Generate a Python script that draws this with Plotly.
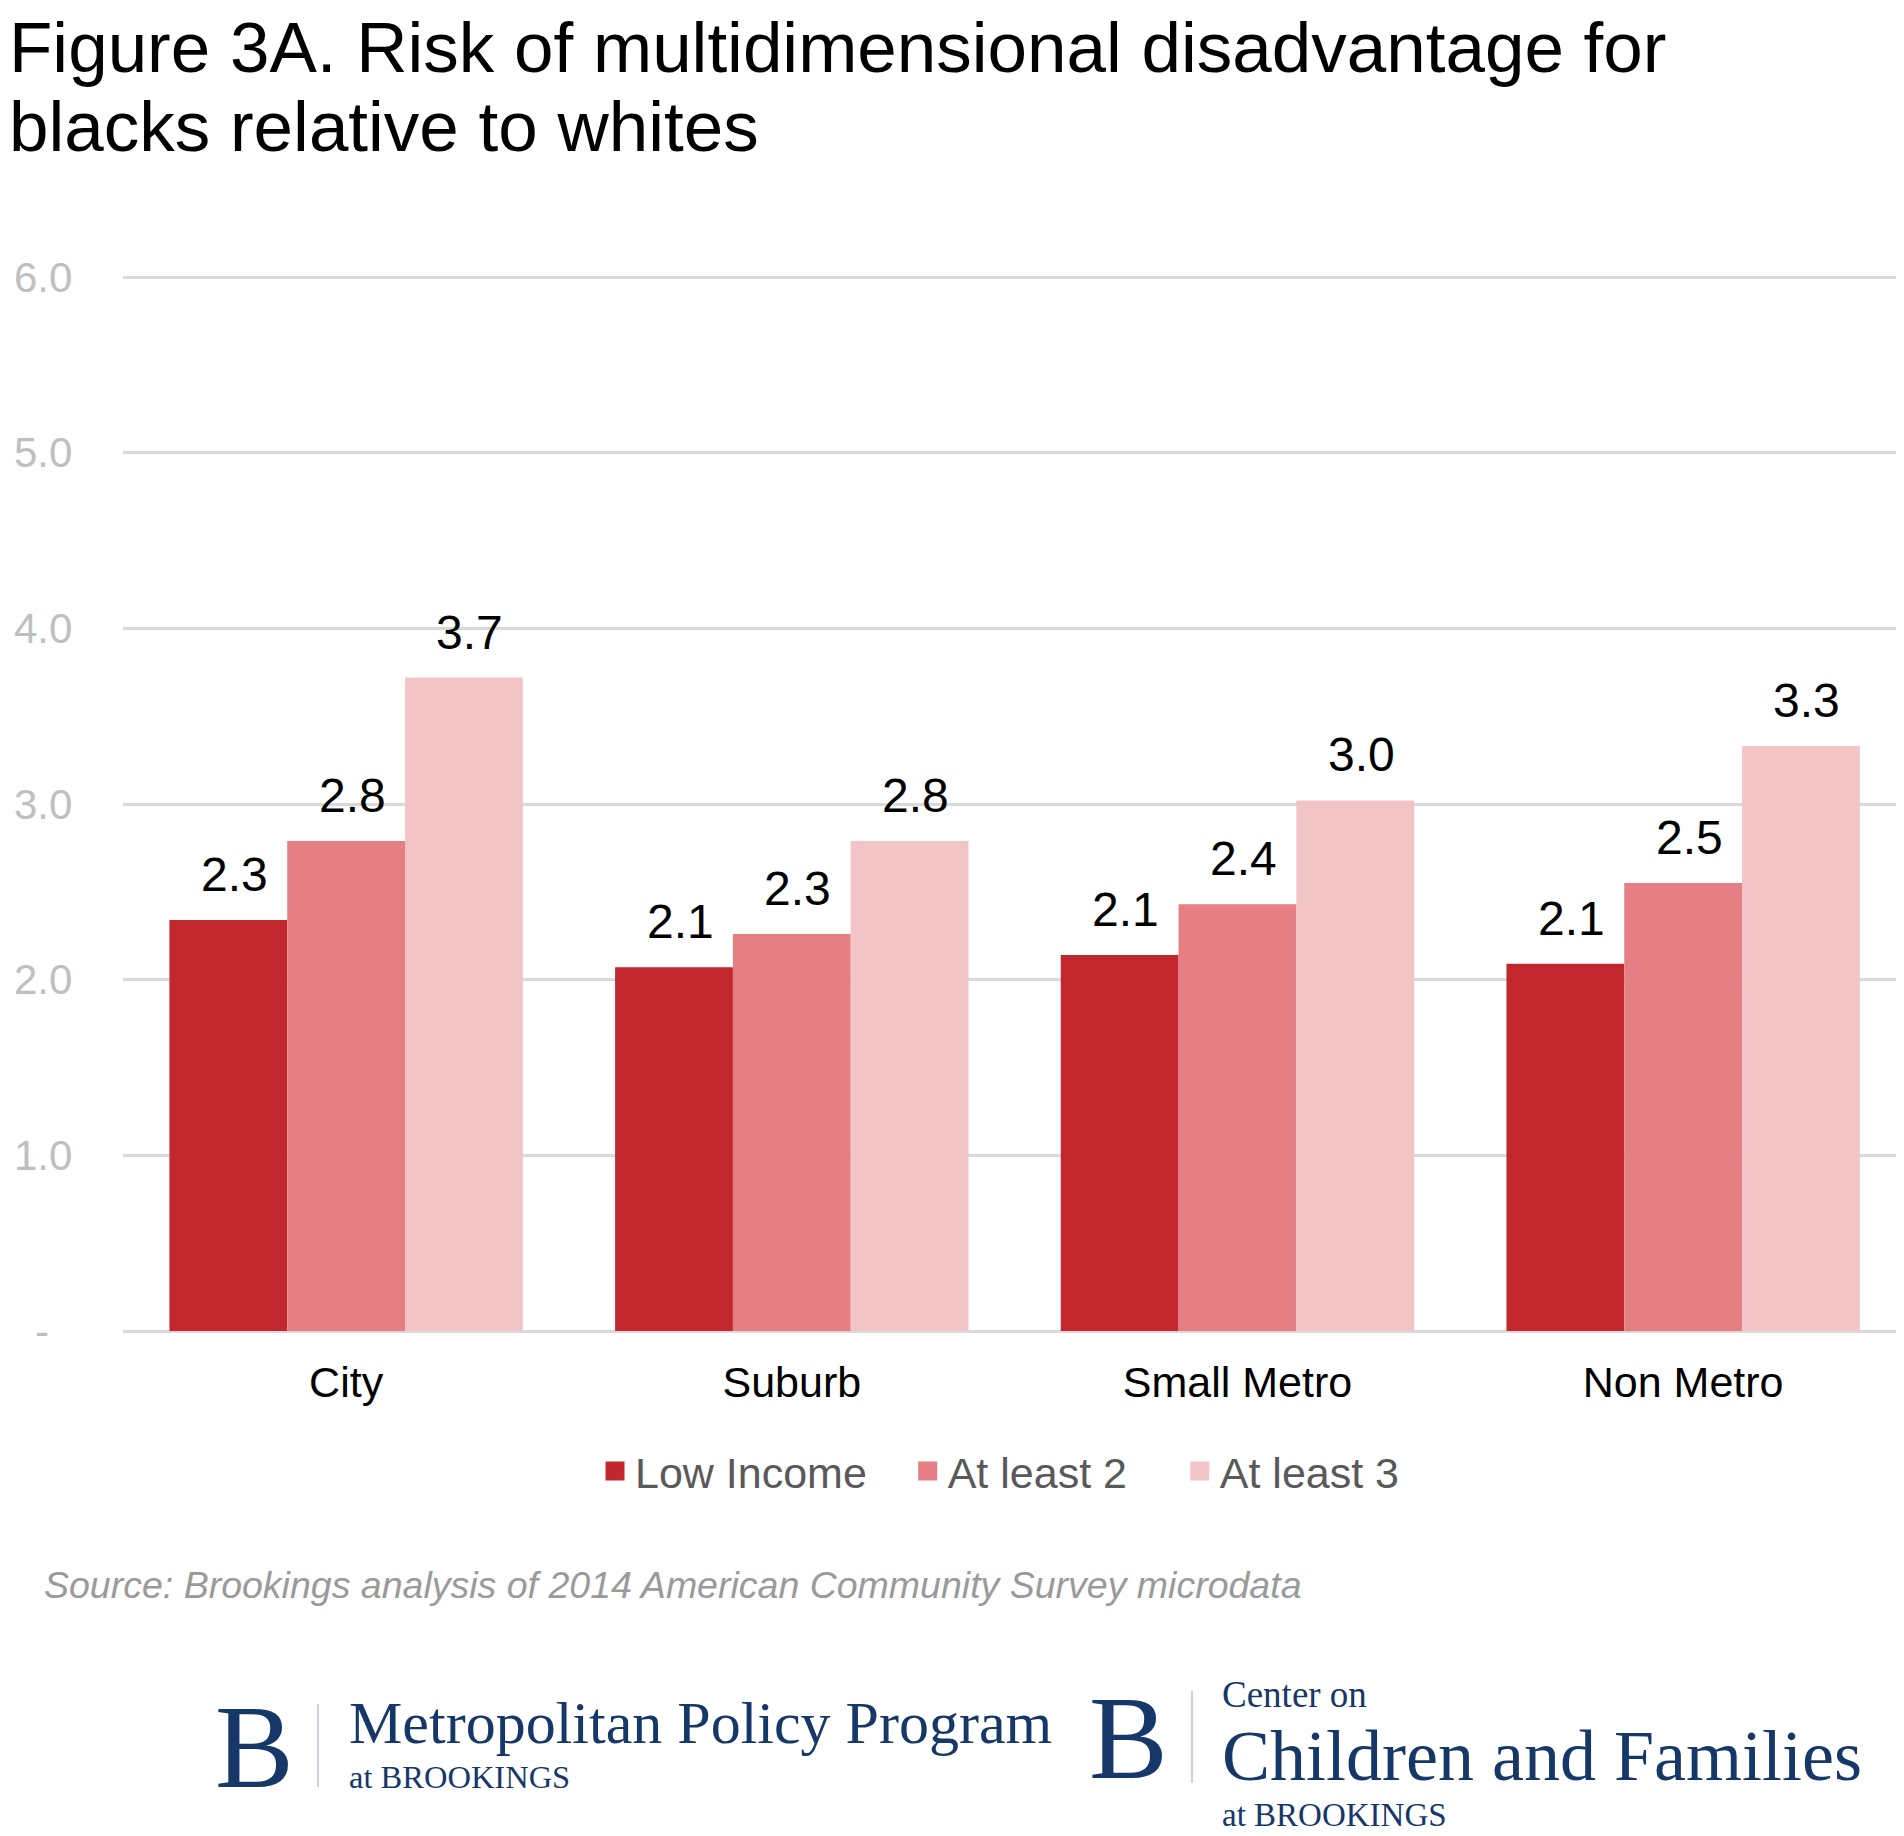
import plotly.graph_objects as go

# ---------------- data ----------------
categories = ["City", "Suburb", "Small Metro", "Non Metro"]
low_income = [2.34, 2.07, 2.14, 2.09]
at_least_2 = [2.79, 2.26, 2.43, 2.55]
at_least_3 = [3.72, 2.79, 3.02, 3.33]
series_names = ["Low Income", "At least 2", "At least 3"]
y_tick_vals = [0, 1, 2, 3, 4, 5, 6]
y_tick_text = ["-\u00a0\u00a0", "1.0", "2.0", "3.0", "4.0", "5.0", "6.0"]

title_lines = ["Figure 3A. Risk of multidimensional disadvantage for",
               "blacks relative to whites"]
source_text = "Source: Brookings analysis of 2014 American Community Survey microdata"

# ---------------- styles ----------------
W, H = 1904, 1836
OFF = 8  # page body margin
colors = ["#C1272D", "#E67F83", "#F3C4C6"]
SANS = "Liberation Sans, Arial, sans-serif"
SERIF = "Liberation Serif, Times New Roman, serif"
NAVY = "#163868"
BARGAP = 0.207
Y_MAX = 6.01

series_values = [low_income, at_least_2, at_least_3]


def fy(px):
    return 1 - (px - OFF) / H


def fx(px):
    return (px - OFF) / W


fig = go.Figure()
for name, vals, col in zip(series_names, series_values, colors):
    fig.add_trace(go.Bar(x=categories, y=vals, name=name, marker_color=col,
                         marker_line_width=0, showlegend=False))

# legend-only entries with larger square swatches
legend_pad = ["\u00a0\u00a0\u00a0", "\u00a0\u00a0\u00a0\u00a0", ""]
for name, col, pad in zip(series_names, colors, legend_pad):
    fig.add_trace(go.Scatter(x=[categories[0]], y=[None], mode="markers", name=name + pad,
                             marker=dict(symbol="square", size=16, color=col,
                                         line=dict(color=col, width=3)),
                             hoverinfo="skip"))

annotations = []
# value labels positioned in data coordinates
w = (1 - BARGAP) / len(series_values)
for i, vals in enumerate(series_values):
    for j, v in enumerate(vals):
        annotations.append(dict(x=j + (i - 1) * w, y=v, xref="x", yref="y",
                                text=f"{v:.1f}", showarrow=False, yanchor="bottom",
                                xshift=6, yshift=17,
                                font=dict(family=SANS, size=48, color="#000000")))

# title lines
for line, base in zip(title_lines, [72, 151]):
    annotations.append(dict(x=fx(8), y=fy(base - 0.3465 * 71), xref="paper", yref="paper",
                            text=line, showarrow=False, xanchor="left", yanchor="middle",
                            borderpad=0, font=dict(family=SANS, size=71, color="#000000")))
# source
annotations.append(dict(x=fx(42), y=fy(1598 - 0.3465 * 37.5), xref="paper", yref="paper",
                        text="<i>" + source_text + "</i>", showarrow=False, xanchor="left",
                        yanchor="middle", font=dict(family=SANS, size=37.5, color="#9A9A9A")))


# logos (text)
def logo_text(txt, x, baseline, size):
    annotations.append(dict(x=fx(x), y=fy(baseline - 0.3375 * size), xref="paper", yref="paper",
                            text=txt, showarrow=False, xanchor="left", yanchor="middle",
                            borderpad=0, font=dict(family=SERIF, size=size, color=NAVY)))


logo_text("B", 214, 1787, 118)
logo_text("Metropolitan Policy Program", 348, 1743, 60)
logo_text("at BROOKINGS", 348, 1788, 32.5)
logo_text("B", 1088, 1778, 118)
logo_text("Center on", 1221, 1707, 37)
logo_text("Children and Families", 1221, 1780, 72)
logo_text("at BROOKINGS", 1221, 1826, 33)

shapes = [
    dict(type="line", xref="paper", yref="paper", x0=fx(318), x1=fx(318), y0=fy(1704), y1=fy(1787),
         line=dict(color="#B8C2D8", width=1.5)),
    dict(type="line", xref="paper", yref="paper", x0=fx(1192), x1=fx(1192), y0=fy(1691), y1=fy(1783),
         line=dict(color="#B8C2D8", width=1.5)),
]

unit_px = (1331 - 277) / 6.0
fig.update_layout(
    width=W, height=H,
    margin=dict(l=0, r=0, t=0, b=0, autoexpand=False),
    paper_bgcolor="white", plot_bgcolor="white",
    barmode="group", bargap=BARGAP, bargroupgap=0,
    font=dict(family=SANS),
    xaxis=dict(domain=[fx(123.3), min(1.0, fx(1906))], showgrid=False, zeroline=False, showline=False,
               ticks="", tickfont=dict(family=SANS, size=43, color="#000000"), ticklabelstandoff=22,
               fixedrange=True),
    yaxis=dict(domain=[fy(1331), fy(277 - (Y_MAX - 6) * unit_px)], range=[0, Y_MAX],
               tickvals=y_tick_vals, ticktext=y_tick_text,
               showgrid=True, gridcolor="#D9D9D9", gridwidth=2.5,
               zeroline=True, zerolinecolor="#D9D9D9", zerolinewidth=2.5,
               showline=False, ticks="", ticklabelstandoff=50,
               tickfont=dict(family=SANS, size=42, color="#BFBFBF"), fixedrange=True),
    legend=dict(orientation="h", x=fx(1000), xanchor="center", y=fy(1471), yanchor="middle",
                font=dict(family=SANS, size=43, color="#595959"), bgcolor="rgba(0,0,0,0)",
                itemclick=False, itemdoubleclick=False),
    annotations=annotations,
    shapes=shapes,
)

fig.write_html("out.html")
